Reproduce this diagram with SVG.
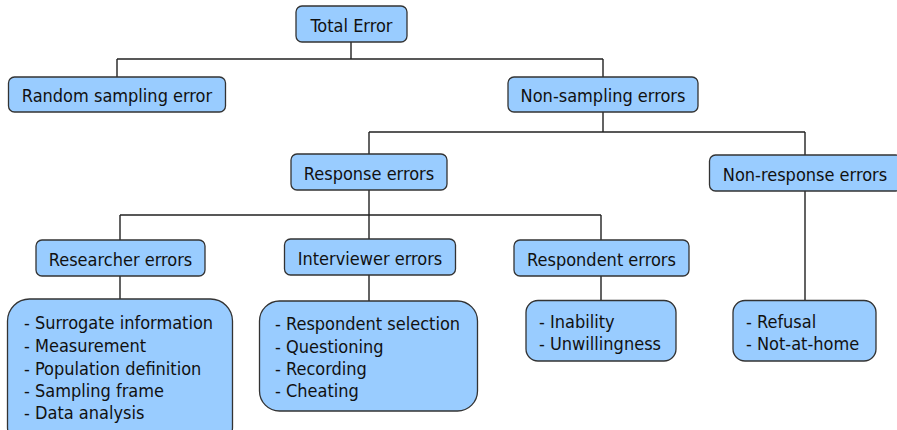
<svg xmlns="http://www.w3.org/2000/svg" width="897" height="430" viewBox="0 0 897 430">
  <style>
    .box { fill: #99ccff; stroke: #333333; stroke-width: 1.3; }
    .lbl { font-family: "DejaVu Sans Condensed", "DejaVu Sans", sans-serif; font-stretch: condensed; font-size: 18px; fill: #111111; }
    .wire { fill: none; stroke: #222222; stroke-width: 1.4; }
  </style>
  <rect width="897" height="430" fill="#ffffff"/>

  <!-- tree connectors -->
  <g id="connectors" class="wire">
    <path d="M351 42V59M117 59H603M117 59V77M603 59V77"/>
    <path d="M603 112V132M369 132H805M369 132V154M805 132V155"/>
    <path d="M369 190V215M120 215H601M120 215V240M369 215V239M601 215V240"/>
    <path d="M120 276V299M369 275V301M601 276V301M805 191V301"/>
  </g>

  <g id="total-error">
    <rect class="box" x="296" y="6" width="111" height="36" rx="6"/>
    <text class="lbl" x="351.5" y="31.5" text-anchor="middle">Total Error</text>
  </g>

  <g id="random-sampling-error">
    <rect class="box" x="8.5" y="77" width="217" height="35" rx="6"/>
    <text class="lbl" x="117" y="102" text-anchor="middle">Random sampling error</text>
  </g>

  <g id="non-sampling-errors">
    <rect class="box" x="508" y="77" width="190" height="35" rx="6"/>
    <text class="lbl" x="603" y="102" text-anchor="middle">Non-sampling errors</text>
  </g>

  <g id="response-errors">
    <rect class="box" x="291" y="154" width="156" height="36" rx="6"/>
    <text class="lbl" x="369" y="180" text-anchor="middle">Response errors</text>
  </g>

  <g id="non-response-errors">
    <rect class="box" x="709.5" y="155" width="192" height="36" rx="6"/>
    <text class="lbl" x="805" y="181" text-anchor="middle">Non-response errors</text>
  </g>

  <g id="researcher-errors">
    <rect class="box" x="36" y="240" width="169" height="36" rx="6"/>
    <text class="lbl" x="120.5" y="266" text-anchor="middle">Researcher errors</text>
  </g>

  <g id="interviewer-errors">
    <rect class="box" x="284.5" y="239" width="171" height="36" rx="6"/>
    <text class="lbl" x="370" y="265" text-anchor="middle">Interviewer errors</text>
  </g>

  <g id="respondent-errors">
    <rect class="box" x="514" y="240" width="175" height="36" rx="6"/>
    <text class="lbl" x="601.5" y="266" text-anchor="middle">Respondent errors</text>
  </g>

  <g id="researcher-items">
    <rect class="box" x="7.5" y="299" width="225" height="150" rx="22"/>
    <text class="lbl" x="24" y="328.5">- Surrogate information</text>
    <text class="lbl" x="24" y="351.5">- Measurement</text>
    <text class="lbl" x="24" y="374.5">- Population definition</text>
    <text class="lbl" x="24" y="396.5">- Sampling frame</text>
    <text class="lbl" x="24" y="418.5">- Data analysis</text>
  </g>

  <g id="interviewer-items">
    <rect class="box" x="259.5" y="301" width="218" height="110" rx="20"/>
    <text class="lbl" x="275" y="330">- Respondent selection</text>
    <text class="lbl" x="275" y="352.5">- Questioning</text>
    <text class="lbl" x="275" y="375">- Recording</text>
    <text class="lbl" x="275" y="397">- Cheating</text>
  </g>

  <g id="respondent-items">
    <rect class="box" x="526" y="300.5" width="150" height="60.5" rx="12"/>
    <text class="lbl" x="539" y="327.5">- Inability</text>
    <text class="lbl" x="539" y="349.5">- Unwillingness</text>
  </g>

  <g id="non-response-items">
    <rect class="box" x="733" y="300.5" width="143" height="60.5" rx="12"/>
    <text class="lbl" x="746" y="327.5">- Refusal</text>
    <text class="lbl" x="746" y="349.5">- Not-at-home</text>
  </g>
</svg>
